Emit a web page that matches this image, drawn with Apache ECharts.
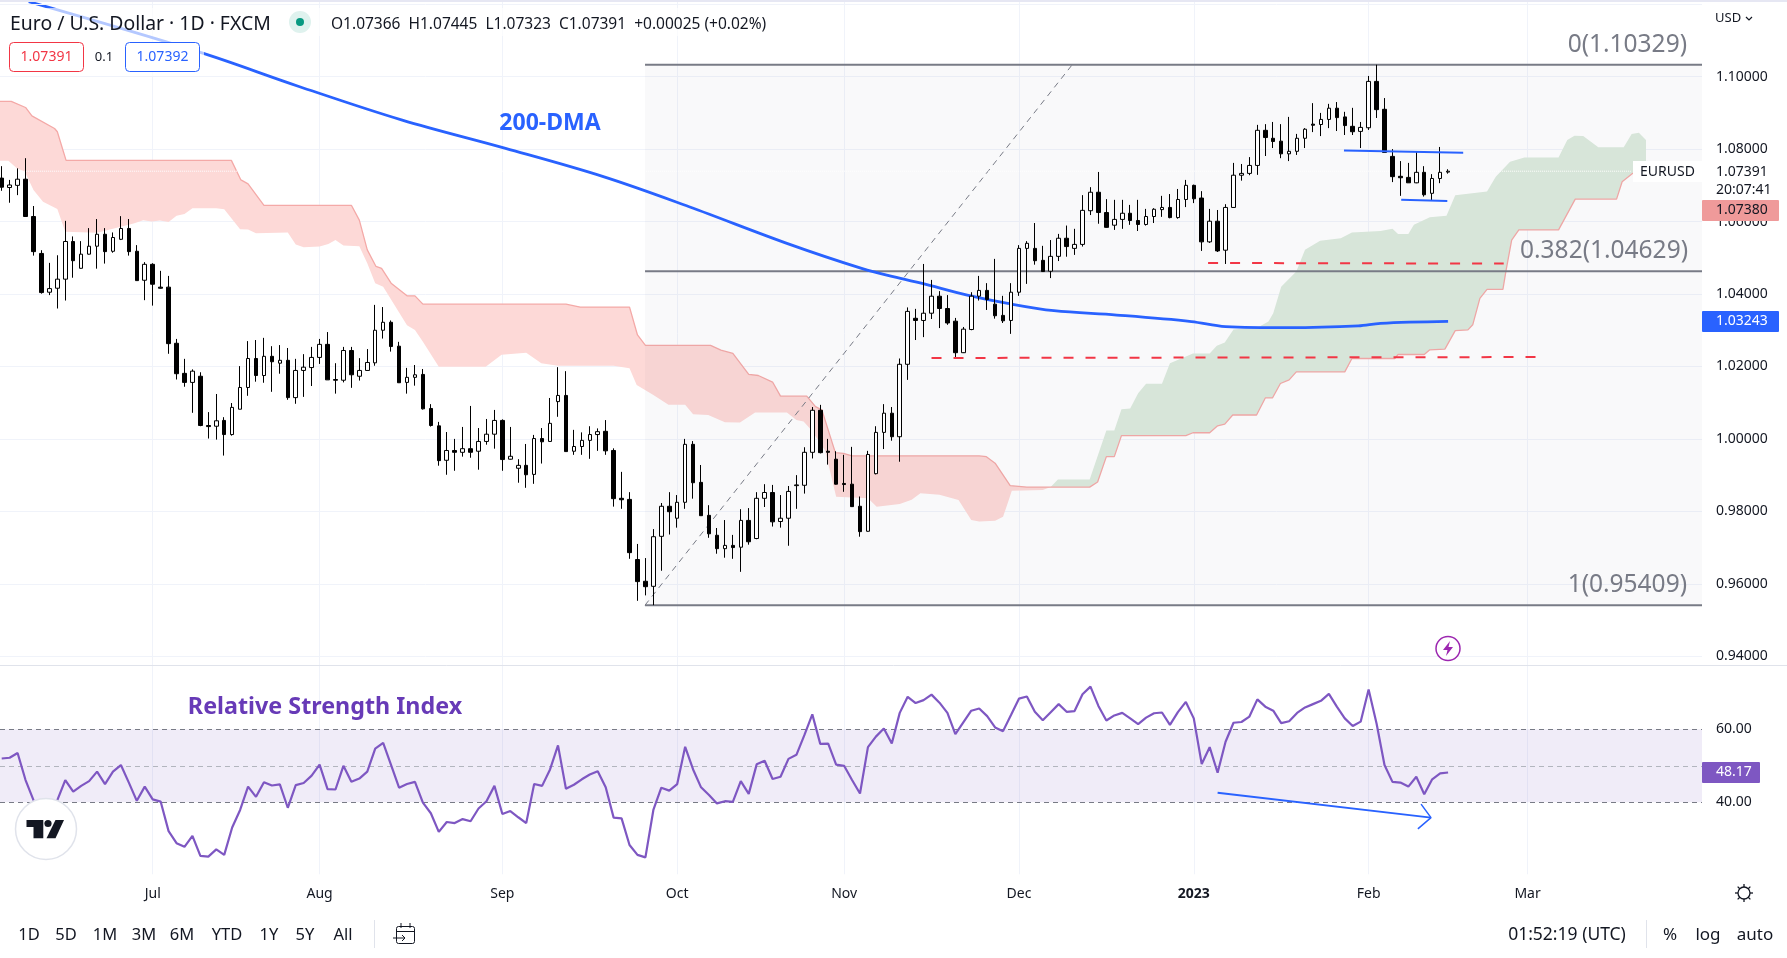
<!DOCTYPE html>
<html>
<head>
<meta charset="utf-8">
<title>EURUSD</title>
<style>
	html, body { margin: 0; padding: 0; background: #fff; }
	#main { width: 1787px; height: 958px; }
</style>
<script src="https://cdn.jsdelivr.net/npm/echarts@6/dist/echarts.min.js"></script>
</head>
<body>
<div id="main"></div>
<script>
var FONT = '"Noto Sans", sans-serif';
// open, close, low, high (one row per trading day, starts 6 Jun 2022)
var ohlc = [
	[1.0720,1.0695,1.0685,1.0753],[1.0694,1.0701,1.0652,1.0715],[1.0700,1.0717,1.0673,1.0747],[1.0717,1.0614,1.0613,1.0775],
	[1.0614,1.0517,1.0506,1.0643],[1.0512,1.0404,1.0401,1.0521],[1.0405,1.0415,1.0397,1.0486],[1.0416,1.0441,1.0360,1.0507],
	[1.0441,1.0545,1.0382,1.0602],[1.0545,1.0492,1.0445,1.0559],[1.0471,1.0510,1.0470,1.0546],[1.0510,1.0532,1.0509,1.0582],
	[1.0532,1.0565,1.0470,1.0607],[1.0565,1.0517,1.0484,1.0582],[1.0518,1.0556,1.0514,1.0570],[1.0551,1.0581,1.0549,1.0615],
	[1.0581,1.0517,1.0506,1.0607],[1.0518,1.0437,1.0437,1.0535],[1.0438,1.0482,1.0383,1.0488],[1.0482,1.0427,1.0368,1.0485],
	[1.0419,1.0416,1.0415,1.0464],[1.0419,1.0263,1.0235,1.0450],[1.0264,1.0180,1.0164,1.0276],[1.0181,1.0156,1.0144,1.0221],
	[1.0156,1.0187,1.0072,1.0192],[1.0173,1.0037,1.0035,1.0184],[1.0037,1.0034,1.0001,1.0074],[1.0035,1.0050,0.9998,1.0124],
	[1.0051,1.0012,0.9954,1.0060],[1.0012,1.0087,1.0009,1.0099],[1.0082,1.0142,1.0082,1.0201],[1.0142,1.0222,1.0119,1.0270],
	[1.0222,1.0175,1.0158,1.0273],[1.0175,1.0228,1.0155,1.0279],[1.0228,1.0213,1.0130,1.0256],[1.0209,1.0217,1.0180,1.0259],
	[1.0217,1.0114,1.0108,1.0251],[1.0114,1.0189,1.0097,1.0221],[1.0189,1.0198,1.0116,1.0234],[1.0197,1.0225,1.0146,1.0254],
	[1.0225,1.0261,1.0207,1.0276],[1.0261,1.0163,1.0163,1.0295],[1.0164,1.0162,1.0125,1.0209],[1.0162,1.0244,1.0156,1.0254],
	[1.0244,1.0177,1.0141,1.0254],[1.0173,1.0189,1.0161,1.0223],[1.0189,1.0211,1.0189,1.0248],[1.0210,1.0300,1.0202,1.0370],
	[1.0300,1.0322,1.0277,1.0364],[1.0322,1.0255,1.0241,1.0327],[1.0256,1.0155,1.0155,1.0268],[1.0156,1.0170,1.0125,1.0196],
	[1.0170,1.0177,1.0147,1.0204],[1.0178,1.0083,1.0081,1.0193],[1.0084,1.0037,1.0034,1.0096],[1.0036,0.9940,0.9926,1.0047],
	[0.9941,0.9968,0.9901,1.0019],[0.9968,0.9963,0.9912,1.0000],[0.9963,0.9973,0.9951,1.0033],[0.9973,0.9963,0.9948,1.0091],
	[0.9966,0.9993,0.9915,1.0030],[0.9993,1.0013,0.9984,1.0055],[1.0013,1.0051,0.9973,1.0080],[1.0051,0.9943,0.9912,1.0054],
	[0.9944,0.9952,0.9943,1.0033],[0.9919,0.9927,0.9879,0.9944],[0.9927,0.9901,0.9865,0.9986],[0.9902,1.0001,0.9876,1.0011],
	[1.0001,0.9992,0.9932,1.0030],[0.9993,1.0043,0.9992,1.0113],[1.0103,1.0120,1.0061,1.0198],[1.0120,0.9965,0.9965,1.0187],
	[0.9966,0.9979,0.9956,1.0025],[0.9979,0.9996,0.9956,1.0018],[0.9996,1.0012,0.9945,1.0035],[1.0012,1.0020,0.9967,1.0029],
	[1.0021,0.9967,0.9956,1.0052],[0.9968,0.9835,0.9813,0.9974],[0.9836,0.9832,0.9807,0.9909],[0.9833,0.9686,0.9669,0.9853],
	[0.9667,0.9606,0.9553,0.9710],[0.9607,0.9592,0.9568,0.9671],[0.9593,0.9730,0.9541,0.9751],[0.9731,0.9814,0.9636,0.9823],
	[0.9814,0.9799,0.9736,0.9853],[0.9781,0.9825,0.9755,0.9845],[0.9825,0.9985,0.9807,1.0000],[0.9985,0.9879,0.9835,0.9994],
	[0.9880,0.9788,0.9788,0.9928],[0.9789,0.9738,0.9727,0.9817],[0.9734,0.9697,0.9683,0.9754],[0.9697,0.9706,0.9672,0.9776],
	[0.9706,0.9700,0.9669,0.9735],[0.9701,0.9775,0.9633,0.9806],[0.9775,0.9716,0.9708,0.9809],[0.9725,0.9836,0.9723,0.9853],
	[0.9836,0.9852,0.9812,0.9875],[0.9852,0.9771,0.9758,0.9873],[0.9772,0.9781,0.9755,0.9845],[0.9781,0.9855,0.9705,0.9870],
	[0.9871,0.9873,0.9807,0.9900],[0.9872,0.9963,0.9849,0.9977],[0.9963,1.0079,0.9946,1.0088],[1.0079,0.9962,0.9960,1.0094],
	[0.9966,0.9963,0.9929,1.0000],[0.9944,0.9875,0.9874,0.9966],[0.9877,0.9874,0.9854,0.9956],[0.9875,0.9813,0.9813,0.9978],
	[0.9814,0.9744,0.9730,0.9841],[0.9745,0.9957,0.9744,0.9967],[0.9904,1.0018,0.9902,1.0035],[1.0018,1.0071,0.9972,1.0096],
	[1.0071,1.0006,0.9995,1.0088],[1.0006,1.0206,0.9937,1.0222],[1.0206,1.0352,1.0163,1.0363],[1.0333,1.0327,1.0273,1.0359],
	[1.0327,1.0347,1.0281,1.0483],[1.0347,1.0394,1.0331,1.0439],[1.0394,1.0360,1.0306,1.0408],[1.0360,1.0320,1.0315,1.0397],
	[1.0325,1.0238,1.0223,1.0334],[1.0238,1.0303,1.0237,1.0309],[1.0302,1.0394,1.0300,1.0405],[1.0394,1.0410,1.0382,1.0450],
	[1.0410,1.0385,1.0356,1.0430],[1.0372,1.0340,1.0332,1.0497],[1.0341,1.0326,1.0320,1.0395],[1.0327,1.0405,1.0290,1.0430],
	[1.0405,1.0526,1.0395,1.0535],[1.0526,1.0540,1.0428,1.0546],[1.0526,1.0492,1.0481,1.0596],[1.0493,1.0462,1.0461,1.0533],
	[1.0463,1.0504,1.0444,1.0549],[1.0504,1.0554,1.0491,1.0566],[1.0554,1.0531,1.0503,1.0589],[1.0526,1.0537,1.0508,1.0580],
	[1.0537,1.0631,1.0531,1.0673],[1.0630,1.0681,1.0618,1.0695],[1.0681,1.0625,1.0594,1.0737],[1.0625,1.0584,1.0583,1.0662],
	[1.0590,1.0606,1.0577,1.0660],[1.0606,1.0623,1.0580,1.0660],[1.0623,1.0603,1.0591,1.0646],[1.0603,1.0592,1.0574,1.0660],
	[1.0592,1.0614,1.0589,1.0635],[1.0614,1.0634,1.0596,1.0637],[1.0633,1.0639,1.0613,1.0671],[1.0639,1.0611,1.0609,1.0676],
	[1.0611,1.0661,1.0608,1.0690],[1.0661,1.0700,1.0640,1.0715],[1.0700,1.0663,1.0651,1.0702],[1.0665,1.0544,1.0519,1.0684],
	[1.0544,1.0601,1.0541,1.0635],[1.0601,1.0519,1.0516,1.0632],[1.0521,1.0639,1.0483,1.0648],[1.0639,1.0728,1.0638,1.0762],
	[1.0728,1.0733,1.0713,1.0759],[1.0733,1.0755,1.0728,1.0778],[1.0755,1.0852,1.0729,1.0867],[1.0852,1.0832,1.0781,1.0869],
	[1.0830,1.0821,1.0803,1.0875],[1.0822,1.0787,1.0775,1.0869],[1.0787,1.0794,1.0767,1.0889],[1.0794,1.0830,1.0784,1.0842],
	[1.0830,1.0855,1.0803,1.0858],[1.0869,1.0866,1.0847,1.0927],[1.0868,1.0882,1.0836,1.0900],[1.0882,1.0913,1.0858,1.0925],
	[1.0913,1.0887,1.0850,1.0930],[1.0889,1.0865,1.0839,1.0903],[1.0863,1.0848,1.0839,1.0914],[1.0849,1.0860,1.0803,1.0875],
	[1.0859,1.0987,1.0853,1.1002],[1.0987,1.0909,1.0886,1.1033],[1.0910,1.0791,1.0791,1.0941],[1.0780,1.0724,1.0709,1.0800],
	[1.0725,1.0721,1.0671,1.0767],[1.0722,1.0707,1.0707,1.0762],[1.0707,1.0736,1.0706,1.0792],[1.0736,1.0674,1.0669,1.0753],
	[1.0678,1.0719,1.0657,1.0731],[1.0719,1.0736,1.0706,1.0806],[1.07366,1.07391,1.07323,1.07445]
];
var rsi = [
	52.0,52.2,53.5,46.1,40.6,37.5,37.5,40.6,46.1,42.9,44.5,45.8,48.4,45.0,48.4,50.2,45.4,40.4,44.3,40.8,
	40.2,32.1,28.8,27.8,30.8,25.3,25.1,27.1,25.6,33.1,37.9,44.3,41.5,45.5,44.6,44.9,38.5,44.7,45.3,47.3,
	50.3,43.6,43.5,50.0,45.6,46.5,48.4,54.7,56.3,50.2,44.0,45.0,45.6,39.9,37.0,31.9,34.6,34.3,35.4,34.8,
	38.3,40.3,44.5,36.8,37.6,35.9,34.3,45.0,44.5,49.0,55.6,43.7,44.8,46.3,47.6,48.5,44.1,35.8,35.6,28.3,
	25.6,24.9,37.9,44.0,43.2,45.0,55.2,49.0,44.1,42.0,39.7,40.3,40.1,45.8,42.3,50.4,51.4,46.4,47.0,51.9,
	53.0,58.4,64.1,56.0,56.1,50.3,50.0,46.1,42.4,55.1,58.0,60.2,56.1,64.5,68.9,67.2,68.0,69.5,67.3,64.5,
	58.7,61.9,65.1,65.7,63.6,60.5,59.5,63.9,68.4,69.0,64.8,62.5,64.7,66.9,64.8,65.0,69.6,71.7,66.4,62.4,
	63.8,64.5,63.0,61.4,63.2,64.4,64.6,61.2,64.7,67.5,63.0,50.5,55.1,48.1,56.6,61.8,62.0,63.5,68.2,66.2,
	65.1,61.7,62.2,64.5,66.0,66.9,67.8,69.7,66.2,63.0,60.9,62.1,70.9,61.6,50.2,45.6,45.4,44.3,47.0,42.2,
	46.3,47.9,48.17
];
// 200日均线 [bar index, price]
var ma200 = [
	[3.4,1.1207],[24.7,1.1069],[37.4,1.0973],[50.4,1.0880],[63.4,1.0802],[75.7,1.0724],[86.5,1.0641],[98.8,1.0540],
	[108.2,1.0471],[113.1,1.0443],[115.7,1.0430],[121.5,1.0397],[126.6,1.0374],[132.4,1.0354],[140.3,1.0342],[149.7,1.0324],
	[154,1.0310],[162,1.0307],[170.7,1.0312],[173.5,1.0319],[182,1.03243]
];
// Ichimoku cloud edges [bar index, price]
var spanB = [
	[-1,1.0932],[1.2,1.0932],[3,1.0915],[3.8,1.0892],[6.65,1.0857],[7,1.0848],[8.1,1.0769],[28.9,1.0769],[30.1,1.0715],[31,1.0704],
	[33,1.0645],[44,1.0645],[45,1.0604],[46,1.0522],[47.1,1.0476],[47.8,1.0471],[49,1.0430],[51,1.0395],[52,1.0395],[53,1.0372],
	[71,1.0372],[72.8,1.0364],[79,1.0364],[80,1.0287],[81,1.0258],[89.2,1.0258],[90.5,1.0245],[92,1.0236],[94,1.0178],[95.2,1.0175],
	[97,1.0157],[98,1.0118],[101.3,1.0118],[102.4,1.0089],[103.2,1.0080],[104.9,0.9962],[105.9,0.9960],[107,0.9953],[123,0.9953],
	[123.9,0.9951],[125,0.9933],[126.9,0.9871],[129,0.9867],[132,0.9867],[136.9,0.9867],[137.9,0.9881],[139,0.9951],[140,0.9951],
	[140.9,1.0009],[149,1.0009],[149.9,1.0017],[152,1.0017],[153,1.0036],[153.9,1.0041],[154.9,1.0066],[157.9,1.0066],[159,1.0113],
	[159.9,1.0113],[160.9,1.0153],[162,1.0163],[162.9,1.0185],[169,1.0185],[169.9,1.0222],[175.3,1.0222],[175.7,1.0233],[179,1.0233],
	[179.7,1.0246],[181.6,1.0248],[182.9,1.0299],[184.5,1.0301],[185.1,1.0315],[186,1.0388],[186.9,1.0413],[188.9,1.0413],
	[189.3,1.0466],[190,1.0549],[190.9,1.0577],[195.9,1.0577],[198,1.0662],[203.2,1.0662],[203.9,1.0710],[205.2,1.0733],[206.9,1.0736]
];
var spanA = [
	[-1,1.0768],[0.84,1.0768],[1.9,1.0747],[2.9,1.0738],[4,1.0687],[5.2,1.0655],[7,1.0635],[8,1.0572],[12,1.0569],[16.6,1.0595],
	[17.8,1.0604],[18.9,1.0600],[19.9,1.0603],[21,1.0599],[22,1.0616],[23,1.0621],[24,1.0637],[27,1.0637],[28,1.0634],[30,1.0579],
	[31,1.0578],[32,1.0568],[36,1.0570],[37,1.0537],[38,1.0529],[40,1.0531],[41.1,1.0538],[42,1.0549],[43,1.0534],[45,1.0532],
	[46,1.0485],[47,1.0430],[48,1.0420],[51,1.0314],[52,1.0301],[53,1.0268],[55,1.0199],[60.9,1.0199],[62.9,1.0232],[66,1.0238],
	[67.9,1.0209],[70,1.0202],[77,1.0202],[79,1.0195],[79.9,1.0149],[82,1.0121],[83.9,1.0094],[86,1.0094],[87,1.0068],[88.9,1.0066],
	[91,1.0046],[92.9,1.0045],[94.8,1.0073],[98.8,1.0073],[100,1.0052],[100.9,1.0048],[101.9,1.0024],[103.6,0.9969],[105,0.9840],
	[109,0.9836],[110.1,0.9813],[113,0.9820],[114.5,0.9832],[115.6,0.9850],[118,0.9846],[120.4,0.9831],[122,0.9776],[123,0.9772],
	[125,0.9774],[126,0.9785],[126.7,0.9830],[127.1,0.9857],[131,0.9859],[132,0.9867],[132.9,0.9888],[136.9,0.9888],[139,1.0023],
	[140,1.0023],[140.9,1.0082],[142,1.0084],[143,1.0126],[144,1.0152],[146,1.0152],[147,1.0209],[149.9,1.0236],[152,1.0236],
	[152.9,1.0257],[153.9,1.0266],[155,1.0302],[158.1,1.0308],[159.4,1.0324],[160,1.0347],[161,1.0420],[162.9,1.0462],[164,1.0522],
	[165.9,1.0547],[168.5,1.0554],[169.9,1.0570],[173.5,1.0574],[175,1.0580],[175.7,1.0566],[177,1.0566],[177.7,1.0591],[179.7,1.0612],
	[181.8,1.0616],[182.9,1.0673],[186.9,1.0683],[188,1.0724],[189.8,1.0765],[191.6,1.0777],[195.9,1.0777],[197,1.0825],[197.9,1.0837],
	[199,1.0836],[200.9,1.0805],[204.1,1.0805],[205.1,1.0842],[206,1.0845],[206.9,1.0825]
];
var crossAt = 132;
var monthTicks = { 19: 'Jul', 40: 'Aug', 63: 'Sep', 85: 'Oct', 106: 'Nov', 128: 'Dec', 150: '2023', 172: 'Feb', 192: 'Mar' };
var monthValues = Object.keys(monthTicks).map(Number);
var priceValues = [0.94, 0.96, 0.98, 1.00, 1.02, 1.04, 1.06, 1.08, 1.10];
var fibLeft = 80.95, axisRight = 213.95;

var candleData = ohlc.map(function (row, i) { return [i].concat(row); });
var rsiData = rsi.map(function (v, i) { return [i, v]; });

function polygonSeries(points, color, z) {
	return {
		type: 'custom',
		xAxisIndex: 0,
		yAxisIndex: 0,
		silent: true,
		z: z,
		data: [0],
		renderItem: function (params, api) {
			return {
				type: 'polygon',
				shape: { points: points.map(function (p) { return api.coord(p); }) },
				style: { fill: color }
			};
		}
	};
}
function lineSeries(points, color, width, dash, z, pane) {
	return {
		type: 'line',
		xAxisIndex: pane || 0,
		yAxisIndex: pane || 0,
		data: points,
		silent: true,
		showSymbol: false,
		z: z,
		lineStyle: { color: color, width: width, type: dash || 'solid' }
	};
}
function xAxisOption(index, top) {
	return {
		type: 'value',
		gridIndex: index,
		min: -0.214,
		max: axisRight,
		axisLine: { show: false },
		axisTick: { show: false, customValues: monthValues },
		axisLabel: {
			show: index == 1,
			customValues: monthValues,
			margin: 13,
			fontFamily: FONT,
			fontSize: 14,
			color: '#131722',
			formatter: function (v) {
				return v == 150 ? '{b|2023}' : monthTicks[v];
			},
			rich: { b: { fontFamily: FONT, fontSize: 14, fontWeight: 'bold', color: '#131722' } }
		},
		splitLine: { show: true, lineStyle: { color: '#f0f3fa', width: 1 } }
	};
}

var redCloud = spanB.filter(function (p) { return p[0] <= crossAt; })
	.concat(spanA.filter(function (p) { return p[0] <= crossAt; }).reverse());
var greenCloud = spanA.filter(function (p) { return p[0] >= crossAt; })
	.concat(spanB.filter(function (p) { return p[0] >= crossAt; }).reverse());

var maSeries = lineSeries(ma200, '#2962ff', 2.8, 'solid', 5);
maSeries.smooth = 0.35;

var chart = echarts.init(document.getElementById('main'), null, { renderer: 'canvas' });
var option = {
	animation: false,
	backgroundColor: '#ffffff',
	grid: [
		{ left: 0, width: 1702, top: 2, height: 663 },
		{ left: 0, width: 1702, top: 665, height: 209.3 }
	],
	xAxis: [xAxisOption(0), xAxisOption(1)],
	yAxis: [
		{
			type: 'value',
			gridIndex: 0,
			position: 'right',
			min: 0.93758,
			max: 1.12062,
			axisLine: { show: false },
			axisTick: { show: false, customValues: priceValues },
			axisLabel: {
				customValues: priceValues,
				margin: 14,
				padding: [5, 0, 0, 0],
				fontFamily: FONT,
				fontSize: 14,
				color: '#131722',
				formatter: function (v) { return v.toFixed(5); }
			},
			splitLine: { show: true, lineStyle: { color: '#f0f3fa', width: 1 } }
		},
		{
			type: 'value',
			gridIndex: 1,
			position: 'right',
			min: 20.27,
			max: 77.62,
			axisLine: { show: false },
			axisTick: { show: false, customValues: [40, 60] },
			axisLabel: {
				customValues: [40, 60],
				margin: 14,
				padding: [5, 0, 0, 0],
				fontFamily: FONT,
				fontSize: 14,
				color: '#131722',
				formatter: function (v) { return v.toFixed(2); }
			},
			splitLine: { show: false }
		}
	],
	series: [
		polygonSeries(redCloud, '#fdd9d7', 1),
		polygonSeries(greenCloud, '#dcebdd', 1),
		lineSeries(spanB, '#f4a9a7', 1.3, 'solid', 2),
		// fib box
		polygonSeries([[fibLeft, 1.10329], [axisRight, 1.10329], [axisRight, 0.95409], [fibLeft, 0.95409]], 'rgba(120,123,134,0.045)', 3),
		lineSeries([[fibLeft, 1.10329], [axisRight, 1.10329]], '#787b86', 2, 'solid', 4),
		lineSeries([[fibLeft, 1.04629], [axisRight, 1.04629]], '#787b86', 2, 'solid', 4),
		lineSeries([[fibLeft, 0.95409], [axisRight, 0.95409]], '#787b86', 2, 'solid', 4),
		lineSeries([[fibLeft, 0.95409], [134.7, 1.10329]], '#787b86', 1, [6, 5], 4),
		lineSeries([[-0.2, 1.07391], [205, 1.07391]], '#ffffff', 1, 'dotted', 4),
		maSeries,
		{
			type: 'candlestick',
			xAxisIndex: 0,
			yAxisIndex: 0,
			data: candleData,
			encode: { x: 0, y: [1, 2, 3, 4] },
			barWidth: 4,
			silent: true,
			z: 6,
			itemStyle: { color: '#ffffff', color0: '#000000', borderColor: '#000000', borderColor0: '#000000', borderWidth: 1 }
		},
		// hand drawn support and resistance
		lineSeries([[151.8, 1.04857], [189, 1.0484]], '#f23645', 2, [10, 12], 7),
		lineSeries([[117, 1.02234], [193.1, 1.0226]], '#f23645', 2, [10, 12], 7),
		lineSeries([[168.9, 1.0796], [183.9, 1.0790]], '#2962ff', 2, 'solid', 7),
		lineSeries([[176.1, 1.0660], [181.9, 1.0657]], '#2962ff', 2, 'solid', 7),
		// RSI
		{
			type: 'line',
			xAxisIndex: 1,
			yAxisIndex: 1,
			data: rsiData,
			silent: true,
			showSymbol: false,
			z: 5,
			lineStyle: { color: '#7e57c2', width: 2.2 },
			markArea: {
				silent: true,
				itemStyle: { color: 'rgba(126,87,194,0.115)' },
				data: [[{ yAxis: 40 }, { yAxis: 60 }]]
			},
			markLine: {
				silent: true,
				symbol: 'none',
				label: { show: false },
				data: [
					{ yAxis: 60, lineStyle: { color: '#787b86', type: [5, 4], width: 1 } },
					{ yAxis: 50, lineStyle: { color: '#b2b5be', type: [5, 4], width: 1 } },
					{ yAxis: 40, lineStyle: { color: '#787b86', type: [5, 4], width: 1 } }
				]
			}
		},
		// divergence arrow
		lineSeries([[153, 42.6], [179.85, 35.8]], '#2962ff', 2, 'solid', 7, 1),
		lineSeries([[178.6, 39.5], [179.85, 35.8], [178.2, 32.7]], '#2962ff', 1.5, 'solid', 7, 1)
	]
};
chart.setOption(option);

// overlays: texts and tool bars
function txt(x, y, s, size, color, extra) {
	var style = { x: x, y: y, text: s, fontFamily: FONT, fontSize: size, fill: color, verticalAlign: 'middle', align: 'left' };
	for (var k in (extra || {})) { style[k] = extra[k]; }
	return { type: 'text', silent: true, z: 100, style: style };
}
function box(x, y, w, h, fill, stroke, r) {
	return {
		type: 'rect', silent: true, z: 99,
		shape: { x: x, y: y, width: w, height: h, r: r || 0 },
		style: { fill: fill, stroke: stroke || null, lineWidth: stroke ? 1 : 0 }
	};
}
function seg(pts, color, width) {
	return {
		type: 'polyline', silent: true, z: 100,
		shape: { points: pts },
		style: { stroke: color, lineWidth: width || 1, fill: null }
	};
}
function poly(pts, fill) {
	return { type: 'polygon', silent: true, z: 101, shape: { points: pts }, style: { fill: fill } };
}
function circle(cx, cy, r, fill, stroke, width) {
	return {
		type: 'circle', silent: true, z: 100,
		shape: { cx: cx, cy: cy, r: r },
		style: { fill: fill, stroke: stroke || null, lineWidth: width || 0 }
	};
}

var yMa = chart.convertToPixel({ yAxisIndex: 0 }, 1.03243);
var yRsi = chart.convertToPixel({ yAxisIndex: 1 }, 48.17);
var yFib0 = chart.convertToPixel({ yAxisIndex: 0 }, 1.10329);
var yFib382 = chart.convertToPixel({ yAxisIndex: 0 }, 1.04629);
var yFib1 = chart.convertToPixel({ yAxisIndex: 0 }, 0.95409);

var g = [
	box(0, 0, 1787, 2, '#e6e7f3'),
	seg([[0, 4.5], [1702, 4.5]], '#f0f3fa', 1),
	seg([[0, 665.5], [1787, 665.5]], '#e0e3eb', 1),
	// legend
	box(0, 8, 780, 28, 'rgba(255,255,255,0.65)'),
	box(0, 36, 204, 40, 'rgba(255,255,255,0.65)'),
	txt(10, 24, 'Euro / U.S. Dollar · 1D · FXCM', 19.4, '#131722'),
	circle(300, 22, 11, '#dff2ee'),
	circle(300, 22, 4, '#089981'),
	txt(331, 24.5, 'O1.07366  H1.07445  L1.07323  C1.07391  +0.00025 (+0.02%)', 15.5, '#131722'),
	box(9.5, 42.5, 74, 29, '#ffffff', '#f23645', 4),
	txt(46.5, 57.5, '1.07391', 14, '#f23645', { align: 'center' }),
	txt(104, 57.5, '0.1', 13, '#131722', { align: 'center' }),
	box(125.5, 42.5, 74, 29, '#ffffff', '#2962ff', 4),
	txt(162.5, 57.5, '1.07392', 14, '#2962ff', { align: 'center' }),
	// annotations
	txt(550, 123.5, '200-DMA', 23, '#2962ff', { align: 'center', fontWeight: 'bold' }),
	txt(325, 707, 'Relative Strength Index', 23.3, '#673ab7', { align: 'center', fontWeight: 'bold' }),
	txt(1687, yFib0 - 20, '0(1.10329)', 24.5, '#787b86', { align: 'right' }),
	txt(1688, yFib382 - 20, '0.382(1.04629)', 24.5, '#787b86', { align: 'right' }),
	txt(1687, yFib1 - 20, '1(0.95409)', 24.5, '#787b86', { align: 'right' }),
	// price scale tags
	txt(1715, 18, 'USD', 13, '#131722'),
	seg([[1746, 17], [1749, 20], [1752, 17]], '#131722', 1.2),
	box(1633, 161, 69, 21, '#ffffff'),
	txt(1667.5, 172, 'EURUSD', 14, '#131722', { align: 'center' }),
	box(1702, 162, 85, 38, '#ffffff'),
	txt(1716, 172, '1.07391', 14, '#131722'),
	txt(1716, 190, '20:07:41', 14, '#131722'),
	box(1702, 200, 77, 21, '#ef9a9a', null, 1),
	txt(1716, 210.5, '1.07380', 14, '#131722'),
	box(1702, yMa - 10.5, 77, 21, '#2962ff', null, 1),
	txt(1716, yMa, '1.03243', 14, '#ffffff'),
	box(1702, yRsi - 10.5, 58, 21, '#7e57c2', null, 1),
	txt(1716, yRsi, '48.17', 14, '#ffffff'),
	// logo
	circle(46, 829, 30.5, '#ffffff', '#e0e3eb', 1.5),
	poly([[26.5, 820], [43.3, 820], [43.3, 838.3], [33.5, 838.3], [33.5, 827], [26.5, 827]], '#131722'),
	circle(48, 823.5, 3.6, '#131722'),
	poly([[55.5, 820], [64, 820], [55.5, 838.3], [46.5, 838.3]], '#131722'),
	// lightning badge
	circle(1448, 648.5, 12, '#ffffff', '#9c27b0', 1.5),
	poly([[1450, 641], [1443, 650], [1447.5, 650], [1446, 656], [1453, 647], [1448.5, 647]], '#9c27b0'),
	// bottom tool bar
	seg([[374.5, 920], [374.5, 948]], '#e0e3eb', 1),
	box(396.5, 926.5, 18, 17, null, '#131722', 2),
	seg([[396.5, 931.5], [414.5, 931.5]], '#131722', 1),
	seg([[401, 923], [401, 928]], '#131722', 1),
	seg([[410, 923], [410, 928]], '#131722', 1),
	seg([[393, 938], [405, 938]], '#131722', 1),
	seg([[402, 935], [405, 938], [402, 941]], '#131722', 1),
	seg([[1646.5, 920], [1646.5, 948]], '#e0e3eb', 1),
	txt(1567, 935, '01:52:19 (UTC)', 17.5, '#131722', { align: 'center' }),
	txt(1670, 935, '%', 17, '#131722', { align: 'center' }),
	txt(1708, 935, 'log', 17, '#131722', { align: 'center' }),
	txt(1755, 935, 'auto', 17, '#131722', { align: 'center' }),
	// settings gear
	circle(1744, 893, 6, null, '#131722', 1.3)
];
var ranges = [['1D', 29], ['5D', 66], ['1M', 105], ['3M', 144], ['6M', 182], ['YTD', 227], ['1Y', 269], ['5Y', 305], ['All', 343]];
ranges.forEach(function (r) {
	g.push(txt(r[1], 935, r[0], 16.5, '#131722', { align: 'center' }));
});
for (var a = 0; a < 8; a++) {
	var c = Math.cos(a * Math.PI / 4), s = Math.sin(a * Math.PI / 4);
	g.push(seg([[1744 + c * 6, 893 + s * 6], [1744 + c * 9, 893 + s * 9]], '#131722', 1.3));
}
chart.setOption({ graphic: { elements: g } });
</script>
</body>
</html>
